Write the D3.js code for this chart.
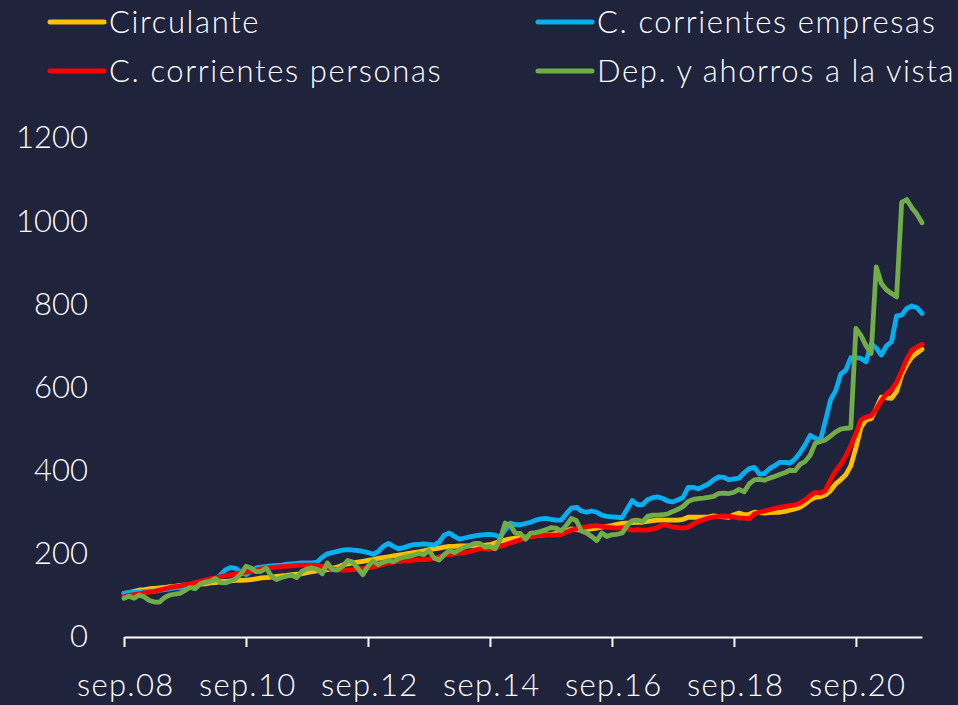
<!DOCTYPE html>
<html>
<head>
<meta charset="utf-8">
<script src="https://cdn.jsdelivr.net/npm/d3@7"></script>
<style>
  html, body { margin: 0; padding: 0; background: #1f243c; }
  svg { display: block; }
  text { font-family: Lato, "Open Sans", sans-serif; font-weight: 300; fill: #ffffff; }
</style>
</head>
<body>
<div id="chart"></div>
<script>
// monthly series, sep.08 (index 0) to oct.21 (index 157)
const circulante = [
  105,107,110,113,114,116,117,118,119,121,122,124,125,126,127,127,128,130,131,133,
  134,135,136,136,137,138,140,142,143,144,146,147,148,150,151,152,155,157,159,160,
  162,165,168,173,176,178,180,182,184,186,189,191,193,195,197,199,201,203,205,207,
  210,212,214,216,218,218,219,219,219,220,220,221,222,226,230,233,236,238,240,240,
  242,244,245,246,247,249,250,255,260,258,257,258,260,262,264,266,268,271,273,274,
  275,276,276,278,280,281,281,281,281,281,283,288,288,288,288,289,291,290,289,288,
  294,298,294,295,300,299,298,299,300,300,302,305,308,312,320,330,336,337,342,352,
  368,378,390,412,455,505,522,525,550,577,575,574,590,630,655,673,683,692
];
const empresas = [
  105,107,108,108,109,110,110,112,114,116,118,119,120,122,125,128,131,135,138,150,
  162,167,165,155,150,158,166,168,170,171,172,173,175,176,177,178,178,178,180,192,
  200,203,206,209,210,209,208,206,203,199,205,218,225,218,212,215,219,222,223,224,
  223,221,228,245,250,242,235,238,241,243,245,246,247,245,240,258,274,270,270,273,
  276,281,284,285,283,281,281,296,310,312,303,300,303,300,293,290,289,288,287,308,
  328,318,318,330,335,337,333,327,325,330,336,360,360,356,362,368,378,385,384,378,
  380,382,395,405,408,392,393,405,412,420,420,418,428,443,462,485,478,472,520,570,
  592,632,642,672,672,670,662,705,695,678,700,710,772,774,790,796,792,778
];
const personas = [
  97,100,102,104,106,108,110,113,116,119,121,123,126,128,131,134,137,140,142,145,
  148,150,152,154,156,158,161,164,166,167,168,169,170,171,172,173,173,173,172,170,
  166,163,162,161,161,162,164,165,166,168,171,175,178,180,182,183,184,185,186,186,
  187,190,193,196,198,200,202,203,205,209,212,212,211,214,218,222,226,230,234,238,
  241,243,245,245,245,245,247,252,257,260,263,265,267,268,266,264,263,262,263,260,
  257,258,257,257,260,263,270,268,264,263,262,264,272,278,282,286,288,290,291,290,
  288,286,286,284,296,300,303,306,309,312,314,316,318,322,330,340,348,346,352,378,
  400,415,435,460,490,522,529,532,548,568,585,595,612,640,668,690,697,704
];
const depVista = [
  93,98,93,101,96,88,84,84,95,101,103,105,112,119,116,128,132,134,141,131,
  130,135,140,152,170,166,157,158,166,146,138,143,146,149,143,158,164,166,163,152,
  178,162,161,170,184,180,165,150,170,183,174,180,184,181,188,192,194,197,201,198,
  208,190,185,198,208,203,210,216,220,225,225,216,218,212,235,274,268,250,249,235,
  250,251,254,258,263,262,255,268,285,280,255,250,242,232,250,242,246,247,250,268,
  280,281,277,290,293,293,294,296,302,307,314,326,331,333,334,336,338,345,346,345,
  348,355,349,368,378,379,377,382,386,391,395,401,400,415,422,437,466,470,474,483,
  493,500,502,503,742,725,700,682,890,850,835,826,818,1045,1052,1032,1017,996
];

const seriesNames = ["Circulante", "C. corrientes empresas", "C. corrientes personas", "Dep. y ahorros a la vista"];
const seriesColors = ["#ffc000", "#00b0f0", "#ff0000", "#70ad47"];
const seriesValues = [circulante, empresas, personas, depVista];

const yTicks = [0, 200, 400, 600, 800, 1000, 1200];
const xTickIdx = [0, 24, 48, 72, 96, 120, 144];
const xTickLabels = ["sep.08", "sep.10", "sep.12", "sep.14", "sep.16", "sep.18", "sep.20"];

const W = 958, H = 705;
const margin = { top: 138, right: 36, bottom: 68, left: 124 };

const svg = d3.select('#chart').append('svg')
  .attr('width', W)
  .attr('height', H);

svg.append('rect').attr('width', W).attr('height', H).attr('fill', '#1f243c');

const x = d3.scaleLinear()
  .domain([0, circulante.length - 1])
  .range([margin.left, W - margin.right]);

const y = d3.scaleLinear()
  .domain([0, 1200])
  .range([H - margin.bottom, margin.top]);

// Y axis labels only
svg.append('g')
  .attr('transform', `translate(${margin.left},0)`)
  .call(d3.axisLeft(y).tickValues(yTicks).tickFormat(d3.format('d')).tickSize(0).tickPadding(36))
  .call(g => g.select('.domain').remove())
  .call(g => g.selectAll('.tick text')
    .attr('fill', '#fff')
    .style('font-size', '31px')
    .style('font-family', 'Lato, sans-serif')
    .style('font-weight', 300));

// X axis
svg.append('g')
  .attr('transform', `translate(0,${H - margin.bottom})`)
  .call(d3.axisBottom(x).tickValues(xTickIdx)
    .tickFormat((d, i) => xTickLabels[i])
    .tickSizeInner(10).tickSizeOuter(0).tickPadding(27))
  .call(g => g.select('.domain').attr('stroke', '#fff').attr('stroke-width', 2))
  .call(g => g.selectAll('.tick line').attr('stroke', '#fff').attr('stroke-width', 2))
  .call(g => g.selectAll('.tick text')
    .attr('fill', '#fff')
    .attr('dx', '0.04em')
    .style('font-size', '31px')
    .style('letter-spacing', '1.3px')
    .style('font-family', 'Lato, sans-serif')
    .style('font-weight', 300));

// Lines
const line = d3.line()
  .x((d, i) => x(i))
  .y(d => y(d));

seriesValues.forEach((vals, k) => {
  svg.append('path')
    .datum(vals)
    .attr('fill', 'none')
    .attr('stroke', seriesColors[k])
    .attr('stroke-width', 4.8)
    .attr('stroke-linejoin', 'round')
    .attr('stroke-linecap', 'round')
    .attr('d', line);
});

// Legend (2 columns, 2 rows)
const legendPos = [
  { x: 50, y: 22 },   // Circulante
  { x: 538, y: 22 },  // empresas
  { x: 50, y: 71 },   // personas
  { x: 538, y: 71 }   // Dep.
];
const legend = svg.append('g').attr('class', 'legend');
seriesNames.forEach((name, k) => {
  const g = legend.append('g').attr('transform', `translate(${legendPos[k].x},${legendPos[k].y})`);
  g.append('line')
    .attr('x1', 0).attr('x2', 54)
    .attr('y1', 0).attr('y2', 0)
    .attr('stroke', seriesColors[k])
    .attr('stroke-width', 5)
    .attr('stroke-linecap', 'round');
  g.append('text')
    .attr('x', 59)
    .attr('y', 0)
    .attr('dy', '0.35em')
    .style('font-size', '31px')
    .style('letter-spacing', '1.6px')
    .text(name);
});
</script>
</body>
</html>
